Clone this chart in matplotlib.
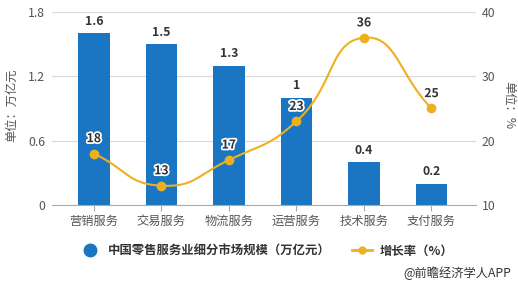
import numpy as np
import matplotlib
matplotlib.use("Agg")
import matplotlib.pyplot as plt
import matplotlib.patheffects as pe
from matplotlib.lines import Line2D

plt.rcParams['font.family'] = ['Noto Sans CJK SC', 'DejaVu Sans']

categories = ['营销服务', '交易服务', '物流服务', '运营服务', '技术服务', '支付服务']
market_size = [1.6, 1.5, 1.3, 1.0, 0.4, 0.2]
size_labels = ['1.6', '1.5', '1.3', '1', '0.4', '0.2']
growth = [18, 13, 17, 23, 36, 25]
left_ticks = [0, 0.6, 1.2, 1.8]
right_ticks = [10, 20, 30, 40]

BAR = '#1A75C2'
LINE = '#EDB11F'
GRID = '#D9D9D9'
TXT = '#555555'

fig = plt.figure(figsize=(5.18, 2.87), dpi=100)
ax = fig.add_axes([52/518, 1-205/287, 424/518, 193/287])
ax2 = ax.twinx()

x = np.arange(len(categories))
ax.bar(x, market_size, width=0.47, color=BAR, zorder=2)
for xi, v, s in zip(x, market_size, size_labels):
    ax.text(xi, v + 0.05, s, ha='center', va='bottom', fontsize=8.8,
            fontweight='bold', color='#333333', zorder=5)

ax.set_xlim(-0.62, 5.66)
ax.set_ylim(0, 1.8)
ax.set_yticks(left_ticks)
ax.set_yticklabels(['0', '0.6', '1.2', '1.8'])
ax.set_xticks(x)
ax.set_xticklabels(categories)
ax.grid(axis='y', color=GRID, lw=0.8, zorder=0)
ax.set_axisbelow(True)
for sp in ['top', 'right', 'left']:
    ax.spines[sp].set_visible(False)
ax.spines['bottom'].set_color('#AAAAAA')
ax.tick_params(axis='y', length=0, labelsize=8.8, labelcolor=TXT, pad=5)
ax.tick_params(axis='x', length=4, color='#AAAAAA', labelsize=8.8, labelcolor=TXT, pad=3)

# smooth line (ECharts-like bezier) through growth points
sx, sy = 67.5, 193/30.0
P = np.array([[xi*sx, g*sy] for xi, g in zip(x, growth)], dtype=float)
n = len(P)
cps = []
smooth = 0.5
for i in range(n):
    prev = P[i-1] if i > 0 else P[i]
    nxt = P[i+1] if i < n-1 else P[i]
    v = (nxt - prev) * smooth
    d0 = np.linalg.norm(P[i]-prev)
    d1 = np.linalg.norm(nxt-P[i])
    s = d0 + d1
    if s == 0:
        cps.append((P[i], P[i]))
        continue
    cps.append((P[i] - v*d0/s, P[i] + v*d1/s))
curve = []
t = np.linspace(0, 1, 40)[:, None]
for i in range(n-1):
    p0 = P[i]; p3 = P[i+1]
    p1 = cps[i][1]; p2 = cps[i+1][0]
    seg = (1-t)**3*p0 + 3*(1-t)**2*t*p1 + 3*(1-t)*t**2*p2 + t**3*p3
    curve.append(seg)
curve = np.vstack(curve)
ax2.plot(curve[:, 0]/sx, curve[:, 1]/sy, color=LINE, lw=1.5, zorder=3)
ax2.plot(x, growth, 'o', color=LINE, ms=6, zorder=4)
for xi, g in zip(x, growth):
    ax2.text(xi, g + 1.3, str(g), ha='center', va='bottom', fontsize=8.8,
             fontweight='bold', color='#333333', zorder=6,
             path_effects=[pe.withStroke(linewidth=2.5, foreground='white')])

ax2.set_ylim(10, 40)
ax2.set_yticks(right_ticks)
for sp in ['top', 'right', 'left', 'bottom']:
    ax2.spines[sp].set_visible(False)
ax2.tick_params(axis='y', length=0, labelsize=8.8, labelcolor=TXT, pad=4)

fig.text(12/518, 1-105/287, '单位：万亿元', rotation=90, ha='center', va='center',
         fontsize=8.8, color=TXT)
fig.text(509/518, 1-105/287, '单位：%', rotation=-90, ha='center', va='center',
         fontsize=8.8, color=TXT)

handles = [Line2D([], [], marker='o', ls='none', color=BAR, ms=9),
           Line2D([], [], marker='o', ls='-', color=LINE, ms=5, lw=2)]
leg = fig.legend(handles, ['中国零售服务业细分市场规模（万亿元）', '增长率（%）'],
                 loc='center', bbox_to_anchor=(0.515, 1-251/287), ncol=2, frameon=False,
                 fontsize=8.9, handlelength=1.6, columnspacing=1.8, handletextpad=0.6)
for t_ in leg.get_texts():
    t_.set_fontweight('bold')
    t_.set_color('#333333')

fig.text(511/518, 1-273/287, '@前瞻经济学人APP', ha='right', va='center',
         fontsize=8.8, color='#333333')

fig.savefig('out.png', dpi=100)
